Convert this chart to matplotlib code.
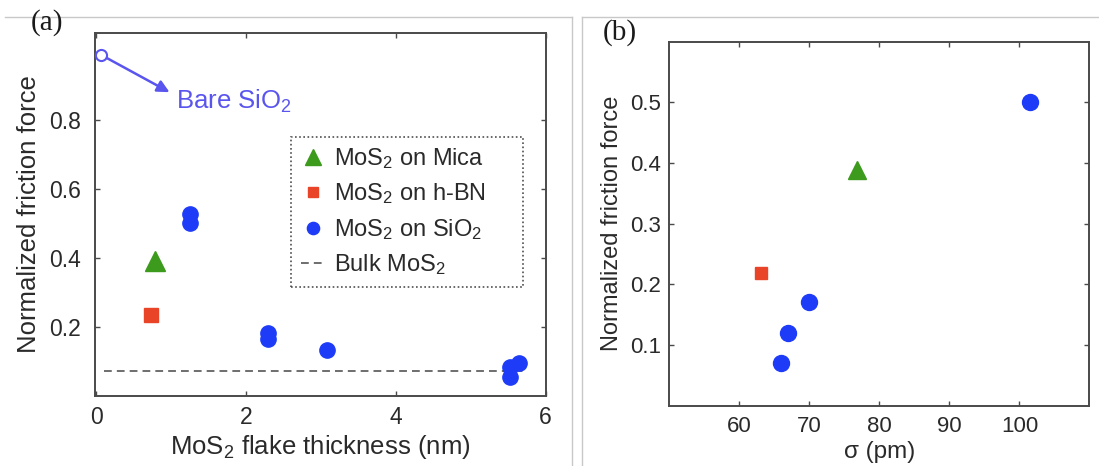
import matplotlib
matplotlib.use("Agg")
import matplotlib.pyplot as plt
from matplotlib.lines import Line2D

plt.rcParams['font.family'] = ['Liberation Sans', 'DejaVu Sans']
plt.rcParams['mathtext.fontset'] = 'custom'
plt.rcParams['mathtext.rm'] = 'Liberation Sans'
plt.rcParams['mathtext.it'] = 'Liberation Sans:italic'

# ---------------- data: panel (a) ----------------
bare_x = [0.06]
bare_y = [0.99]
mica_x = [0.78]
mica_y = [0.39]
hbn_x = [0.73]
hbn_y = [0.234]
sio2_x = [1.25, 1.25, 2.29, 2.29, 3.08, 5.53, 5.53, 5.64]
sio2_y = [0.528, 0.500, 0.181, 0.163, 0.132, 0.055, 0.082, 0.094]
bulk_level = 0.072
bulk_x = [0.1, 5.75]

# ---------------- data: panel (b) ----------------
b_sio2_sigma = [101.5, 70.0, 66.9, 66.0]
b_sio2_force = [0.50, 0.17, 0.12, 0.07]
b_mica_sigma = [76.8]
b_mica_force = [0.389]
b_hbn_sigma = [63.1]
b_hbn_force = [0.219]

xticks_a = [0, 2, 4, 6]
yticks_a = [0.2, 0.4, 0.6, 0.8]
xticks_b = [60, 70, 80, 90, 100]
yticks_b = [0.1, 0.2, 0.3, 0.4, 0.5]

BLUE = '#1e3cf8'
GREEN = '#3c9a1c'
RED = '#ea4428'
PURPLE = '#5a55ee'
SPINE = '#4a4a4a'
TXT = '#2a2a2a'

W, H = 1099, 466
fig = plt.figure(figsize=(W / 100, H / 100), dpi=100)

def px_axes(l, t, r, b):
    return fig.add_axes([l / W, 1 - b / H, (r - l) / W, (b - t) / H])

def style(ax, fs, xpad, ypad):
    for s in ax.spines.values():
        s.set_color(SPINE)
        s.set_linewidth(1.4)
    ax.tick_params(direction='in', top=True, right=True, length=3.5,
                   width=1.0, color=SPINE, labelsize=fs, labelcolor=TXT)
    ax.tick_params(axis='x', pad=xpad)
    ax.tick_params(axis='y', pad=ypad)

SUB2 = '$_\\mathregular{2}$'

# ---------------- panel (a) ----------------
axa = px_axes(95, 33.3, 545.5, 395.5)
style(axa, 16.5, 7.5, 10)
axa.plot(bulk_x, [bulk_level, bulk_level], ls=(0, (4, 2.6)), color='#6e6e6e', lw=1.4,
         label='Bulk MoS' + SUB2, zorder=1)
axa.plot(mica_x, mica_y, ls='none', marker='^', ms=14, color=GREEN, mec=GREEN,
         label='MoS' + SUB2 + ' on Mica', zorder=3)
axa.plot(hbn_x, hbn_y, ls='none', marker='s', ms=9.5, color=RED, mec=RED,
         label='MoS' + SUB2 + ' on h-BN', zorder=3)
axa.plot(sio2_x, sio2_y, ls='none', marker='o', ms=11, color=BLUE, mec=BLUE,
         label='MoS' + SUB2 + ' on SiO' + SUB2, zorder=3)
axa.plot(bare_x, bare_y, ls='none', marker='o', ms=8, mfc='white', mec=PURPLE,
         mew=1.5, zorder=4, clip_on=False)
axa.annotate('', xy=(0.98, 0.881), xytext=(bare_x[0], bare_y[0]),
             arrowprops=dict(arrowstyle='-|>', color=PURPLE, lw=1.8,
                             mutation_scale=18, shrinkA=5, shrinkB=0))
axa.text(1.07, 0.832, 'Bare SiO' + SUB2, color=PURPLE, fontsize=18.5,
         ha='left', va='baseline')
axa.set_xlim(-0.015, 6)
axa.set_ylim(0, 1.052)
axa.set_xticks(xticks_a)
axa.set_xticklabels([str(v) for v in xticks_a])
axa.set_yticks(yticks_a)
axa.set_yticklabels([f'{v:.1f}' for v in yticks_a])
axa.set_xlabel('MoS' + SUB2 + ' flake thickness (nm)', fontsize=18.5,
               color=TXT, labelpad=3)
axa.set_ylabel('Normalized friction force', fontsize=18.5, color=TXT, labelpad=6)

handles, labels = axa.get_legend_handles_labels()
order = [1, 2, 3, 0]
leg = axa.legend([handles[i] for i in order], [labels[i] for i in order],
                 loc='upper left', bbox_to_anchor=(0.436, 0.715, 0.514, 0.0),
                 mode='expand', fontsize=17, frameon=True, fancybox=False,
                 handlelength=1.0, handletextpad=0.4, labelspacing=0.45,
                 borderpad=0.4, borderaxespad=0, markerscale=0.8)
fr = leg.get_frame()
fr.set_edgecolor('#222222')
fr.set_linestyle((0, (1, 1.5)))
fr.set_linewidth(1.2)
for t in leg.get_texts():
    t.set_color(TXT)

# ---------------- panel (b) ----------------
axb = px_axes(669.3, 41.7, 1089.4, 405.5)
style(axb, 16, 7.5, 6)
axb.plot(b_hbn_sigma, b_hbn_force, ls='none', marker='s', ms=9, color=RED, mec=RED)
axb.plot(b_mica_sigma, b_mica_force, ls='none', marker='^', ms=12.5, color=GREEN, mec=GREEN)
axb.plot(b_sio2_sigma, b_sio2_force, ls='none', marker='o', ms=11.5, color=BLUE, mec=BLUE)
axb.set_xlim(50, 110)
axb.set_ylim(0, 0.6)
axb.set_xticks(xticks_b)
axb.set_xticklabels([str(v) for v in xticks_b])
axb.set_yticks(yticks_b)
axb.set_yticklabels([f'{v:.1f}' for v in yticks_b])
axb.set_xlabel('σ (pm)', fontsize=17.5, color=TXT, labelpad=3)
axb.set_ylabel('Normalized friction force', fontsize=17, color=TXT, labelpad=5)

# ---------------- panel labels and frame ----------------
fig.text(31 / W, 1 - 23 / H, '(a)', fontsize=21, family='Liberation Serif',
         ha='left', va='center', color='#1a1a1a')
fig.text(603 / W, 1 - 33 / H, '(b)', fontsize=21, family='Liberation Serif',
         ha='left', va='center', color='#1a1a1a')

def fline(xs, ys):
    fig.add_artist(Line2D([x / W for x in xs], [1 - y / H for y in ys],
                          color='#c8c8c8', lw=1.0, transform=fig.transFigure))

fline([5, 572], [17, 17])
fline([582, 1099], [17, 17])
fline([572, 572], [17, 466])
fline([582, 582], [17, 466])

fig.savefig('out.png', dpi=100, facecolor='white')
